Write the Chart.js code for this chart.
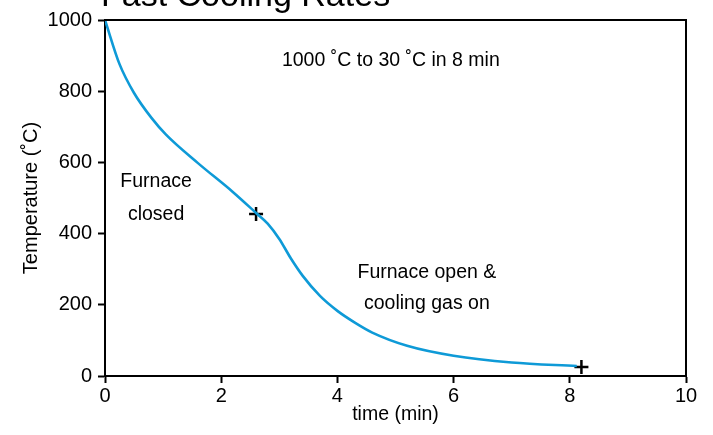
<!DOCTYPE html>
<html><head><meta charset="utf-8">
<script src="https://cdn.jsdelivr.net/npm/chart.js@4/dist/chart.umd.min.js"></script>
<style>html,body{margin:0;padding:0;background:#fff;}canvas{display:block;}</style>
</head><body>
<canvas id="c" width="713" height="435"></canvas>
<script>
// ---- data ----
const timeMin = [0, 0.25, 0.5, 0.8, 1.05, 1.6, 2.2, 2.6, 2.8, 3.0, 3.2, 3.4, 3.7, 4.0, 4.3, 4.6, 5.2, 6.0, 7.0, 8.12];
const tempC   = [1000, 876, 795, 725, 678, 598, 517, 458, 428, 385, 330, 282, 225, 183, 150, 122, 85, 57, 38, 28];
const markerTime = [2.6, 8.2];
const markerTemp = [455, 25];
const xTicks = [0, 2, 4, 6, 8, 10];
const yTicks = [0, 200, 400, 600, 800, 1000];
const titleText = 'Fast Cooling Rates';
const xTitle = 'time (min)';
const yTitle = 'Temperature (˚C)';
const noteTop = ['1000 ˚C to 30 ˚C in 8 min'];
const noteClosed = ['Furnace', 'closed'];
const noteOpen = ['Furnace open &', 'cooling gas on'];

const FAM = '"Liberation Sans", Arial, sans-serif';
const TXT = 19.5;
const TICK = 20;
const BLUE = '#0e9ad7';

const decor = {
  id: 'decor',
  afterDraw(chart){
    const {ctx, chartArea: a, scales: {x, y}} = chart;
    ctx.save();
    ctx.strokeStyle = '#000'; ctx.lineWidth = 2;
    ctx.beginPath();
    ctx.moveTo(a.left, a.top); ctx.lineTo(a.right, a.top); ctx.lineTo(a.right, a.bottom);
    ctx.stroke();
    ctx.fillStyle = '#000';
    ctx.textAlign = 'left'; ctx.textBaseline = 'alphabetic';
    ctx.font = '34px ' + FAM;
    ctx.fillText(titleText, 101, 6);
    ctx.font = TXT + 'px ' + FAM;
    ctx.textAlign = 'center';
    ctx.fillText(noteTop[0], x.getPixelForValue(4.92), y.getPixelForValue(871));
    ctx.fillText(noteClosed[0], x.getPixelForValue(0.88), y.getPixelForValue(531));
    ctx.fillText(noteClosed[1], x.getPixelForValue(0.88), y.getPixelForValue(438));
    ctx.fillText(noteOpen[0], x.getPixelForValue(5.54), y.getPixelForValue(275));
    ctx.fillText(noteOpen[1], x.getPixelForValue(5.54), y.getPixelForValue(189));
    ctx.restore();
  }
};

new Chart(document.getElementById('c'), {
  type: 'line',
  data: {
    datasets: [
      {
        data: timeMin.map((t, i) => ({x: t, y: tempC[i]})),
        borderColor: BLUE, borderWidth: 2.6, pointRadius: 0,
        cubicInterpolationMode: 'monotone', fill: false
      },
      {
        data: markerTime.map((t, i) => ({x: t, y: markerTemp[i]})),
        showLine: false, pointStyle: 'cross', pointRadius: 7,
        borderColor: '#000', borderWidth: 2.5, backgroundColor: '#000'
      }
    ]
  },
  options: {
    responsive: false, animation: false,
    layout: {padding: {top: 20, right: 27, left: 0, bottom: 0}},
    plugins: {legend: {display: false}, tooltip: {enabled: false}},
    scales: {
      x: {
        type: 'linear', min: 0, max: 10,
        afterBuildTicks: s => { s.ticks = xTicks.map(v => ({value: v})); },
        afterFit: s => { s.height = 59; },
        ticks: {color: '#000', font: {family: FAM, size: TICK}, padding: 1, maxRotation: 0,
                callback: v => String(v)},
        grid: {drawOnChartArea: false, tickLength: 7, color: '#000', tickWidth: 2},
        border: {color: '#000', width: 2},
        title: {display: true, text: xTitle, color: '#000', font: {family: FAM, size: TXT}, padding: {top: 0, bottom: 9}}
      },
      y: {
        type: 'linear', min: 0, max: 1000,
        afterBuildTicks: s => { s.ticks = yTicks.map(v => ({value: v})); },
        afterFit: s => { s.width = 105; },
        ticks: {color: '#000', font: {family: FAM, size: TICK}, padding: 6,
                callback: v => String(v)},
        grid: {drawOnChartArea: false, tickLength: 7, color: '#000', tickWidth: 2},
        border: {color: '#000', width: 2},
        title: {display: true, text: yTitle, color: '#000', font: {family: FAM, size: 20}, padding: {top: 19, bottom: 0}}
      }
    }
  },
  plugins: [decor]
});
</script>
</body></html>
